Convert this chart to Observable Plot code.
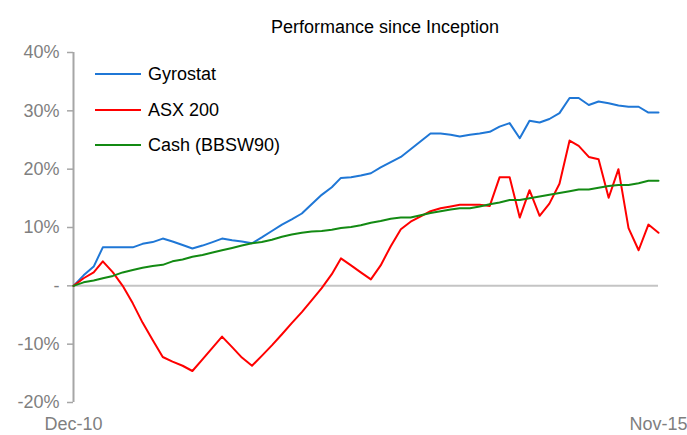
<!DOCTYPE html>
<html>
<head>
<meta charset="utf-8">
<script src="https://cdn.jsdelivr.net/npm/d3@7"></script>
<script src="https://cdn.jsdelivr.net/npm/@observablehq/plot@0.6"></script>
<style>
  body { margin: 0; background: #fff; font-family: "Liberation Sans", Arial, sans-serif; }
  #wrap { position: relative; width: 687px; height: 435px; overflow: hidden; }
  #title { position: absolute; top: 17px; left: 385px; transform: translateX(-50%); white-space: nowrap;
           font-size: 18px; color: #000; }
  .lg { position: absolute; left: 95px; height: 22px; line-height: 22px; font-size: 18px; color: #000; white-space: nowrap; }
  .lg .sw { display: inline-block; width: 46px; height: 0; border-top: 2px solid; vertical-align: middle; margin-right: 7px; position: relative; top: -1px; }
</style>
</head>
<body>
<div id="wrap">
  <div id="chart"></div>
  <div id="title">Performance since Inception</div>
  <div id="legend"></div>
</div>
<script>
// ---- data (percent, monthly Dec-10 .. Nov-15) ----
const seriesNames = ["Gyrostat", "ASX 200", "Cash (BBSW90)"];
const seriesColors = ["#1f77d6", "#ff0000", "#138a13"];

const gyrostat = [
  0, 1.8, 3.3, 6.6, 6.6, 6.6, 6.6, 7.2, 7.5, 8.1,
  7.6, 7.0, 6.4, 6.9, 7.5, 8.1, 7.8, 7.6, 7.3, 8.3,
  9.4, 10.5, 11.4, 12.4, 14.0, 15.6, 16.9, 18.5, 18.6, 18.9,
  19.3, 20.3, 21.2, 22.1, 23.4, 24.8, 26.1, 26.1, 25.9, 25.6,
  25.9, 26.1, 26.4, 27.3, 27.9, 25.3, 28.3, 28.0, 28.6, 29.6,
  32.2, 32.2, 31.0, 31.6, 31.3, 30.9, 30.7, 30.7, 29.7, 29.7
];
const asx200 = [
  0, 1.3, 2.3, 4.2, 2.3, 0.0, -3.0, -6.3, -9.3, -12.2,
  -13.0, -13.7, -14.6, -12.6, -10.6, -8.7, -10.5, -12.3, -13.7, -12.0,
  -10.2, -8.3, -6.4, -4.5, -2.5, -0.4, 2.0, 4.7, 3.5, 2.3,
  1.1, 3.5, 6.8, 9.7, 11.0, 11.9, 12.8, 13.3, 13.6, 13.9,
  13.9, 13.9, 13.7, 18.6, 18.6, 11.7, 16.4, 12.0, 14.1, 17.5,
  24.9, 24.0, 22.1, 21.7, 15.1, 20.0, 9.9, 6.1, 10.5, 9.1
];
const cash = [
  0, 0.6, 0.9, 1.3, 1.7, 2.3, 2.7, 3.1, 3.4, 3.6,
  4.2, 4.5, 5.0, 5.3, 5.7, 6.1, 6.5, 6.9, 7.3, 7.5,
  7.9, 8.4, 8.8, 9.1, 9.3, 9.4, 9.6, 9.9, 10.1, 10.4,
  10.8, 11.1, 11.5, 11.7, 11.7, 12.1, 12.5, 12.8, 13.1, 13.3,
  13.3, 13.6, 14.0, 14.3, 14.7, 14.7, 15.0, 15.3, 15.6, 15.9,
  16.2, 16.5, 16.5, 16.8, 17.1, 17.3, 17.3, 17.6, 18.0, 18.0
];
const yTicks = [-0.2, -0.1, 0, 0.1, 0.2, 0.3, 0.4];
const xTickLabels = ["Dec-10", "Nov-15"];

// ---- build ----
const months = d3.utcMonth.range(new Date(Date.UTC(2010, 11, 1)), new Date(Date.UTC(2015, 11, 1)));
const seriesValues = [gyrostat, asx200, cash];
const rows = seriesNames.flatMap((name, k) =>
  seriesValues[k].map((v, i) => ({ date: months[i], value: v / 100, series: name })));
const first = months[0], last = months[months.length - 1];
const fmtX = d3.utcFormat("%b-%y");

const chart = Plot.plot({
  width: 687,
  height: 435,
  marginTop: 52,
  marginBottom: 33,
  marginLeft: 73,
  marginRight: 29,
  style: { fontFamily: "'Liberation Sans', Arial, sans-serif", fontSize: "18px", color: "#7f7f7f", background: "#fff", overflow: "visible" },
  x: { type: "utc", domain: [first, last] },
  y: { domain: d3.extent(yTicks) },
  color: { domain: seriesNames, range: seriesColors },
  marks: [
    Plot.ruleY([0], { stroke: "#c4c4c4", strokeWidth: 2 }),
    Plot.ruleX([first], { y1: d3.min(yTicks), y2: d3.max(yTicks), stroke: "#a6a6a6", strokeWidth: 2 }),
    Plot.axisY({
      ticks: yTicks,
      tickFormat: d => d === 0 ? "-" : `${Math.round(d * 100)}%`,
      tickSize: 6, tickPadding: 8, stroke: "#a6a6a6", strokeWidth: 1.5,
      label: null, fill: "#7f7f7f"
    }),
    Plot.axisX({
      ticks: [first, last],
      tickFormat: d => xTickLabels[+d === +first ? 0 : 1] || fmtX(d),
      tickSize: 0, tickPadding: 15, label: null, fill: "#7f7f7f"
    }),
    Plot.line(rows, { x: "date", y: "value", z: "series", stroke: "series", strokeWidth: 2 })
  ]
});
document.getElementById("chart").appendChild(chart);

// legend (HTML overlay)
const legendTops = [63, 99, 134];
const legend = document.getElementById("legend");
seriesNames.forEach((name, k) => {
  const item = document.createElement("div");
  item.className = "lg";
  item.style.top = legendTops[k] + "px";
  const sw = document.createElement("span");
  sw.className = "sw";
  sw.style.borderTopColor = seriesColors[k];
  item.appendChild(sw);
  item.appendChild(document.createTextNode(name));
  legend.appendChild(item);
});
</script>
</body>
</html>
